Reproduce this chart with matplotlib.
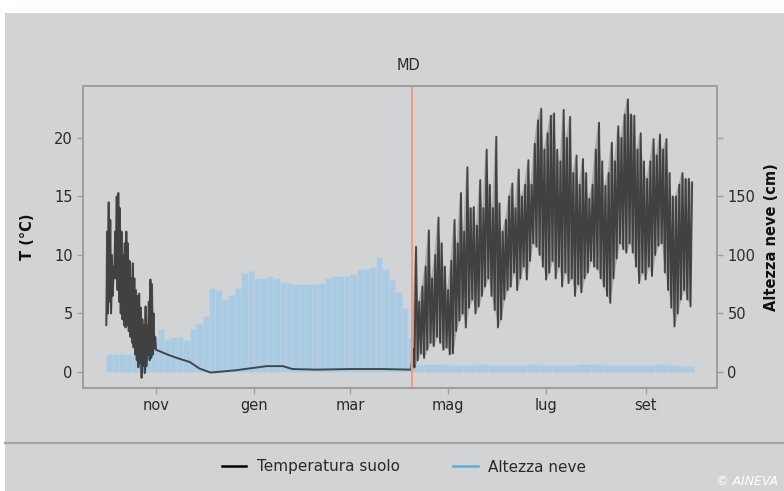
import numpy as np
import matplotlib
matplotlib.use("Agg")
import matplotlib.pyplot as plt
from matplotlib.lines import Line2D
from matplotlib.patches import Rectangle

plt.rcParams['font.family'] = ['DejaVu Sans']

# x axis = days since 1 October (leap year hydrological season)
month_days = [31, 92, 152, 213, 274, 336]
month_labels = ["nov", "gen", "mar", "mag", "lug", "set"]

# ground temperature, October: daily max / min (degC)
oct_day = list(range(0, 31))
oct_hi = [12, 14.5, 13, 10, 9, 12, 15, 15.3, 14, 12, 10, 11, 12, 11, 9.5, 8,
          9.3, 8, 7, 6.5, 6.7, 5.5, 4.5, 4, 5.6, 4, 6, 7.9, 7.5, 5, 3]
oct_lo = [4, 5, 6, 5, 6.5, 8, 8, 7, 6, 5, 4.5, 4, 3.8, 4, 3.5, 3, 2.5, 2.1,
          1.5, 1, 0.4, 0.8, -0.5, 0.5, -0.1, 0.5, 1.5, 1.0, 1.2, 1.5, 2]

# ground temperature under the snow cover (smooth)
winter_day = [31, 38, 44, 52, 58, 65, 69, 81, 89, 100, 110, 116, 131, 152, 172, 190]
winter_t = [1.9, 1.5, 1.2, 0.85, 0.3, -0.05, 0.0, 0.15, 0.3, 0.5, 0.5, 0.25,
            0.2, 0.25, 0.25, 0.2]

# ground temperature after melt-out: max / min every two days
summer_day = list(range(190, 366, 2))
summer_hi = [2, 10.7, 6, 7.3, 9, 12.1, 8, 10, 13.2, 11, 9, 7, 9.5, 13, 11, 15.3,
             12, 17.5, 14, 14.1, 12.5, 16.4, 14, 19, 16, 14, 20.1, 14.4, 12, 13,
             15, 16.1, 14, 17.3, 15, 16, 18.1, 16, 19.5, 21.5, 22.5, 19, 20.4,
             21.9, 22.1, 19, 18, 22.4, 20, 21.8, 17, 18.5, 16, 18.2, 17, 14.8,
             16, 19, 21.3, 18, 15.9, 17, 19.6, 18, 21, 20, 22, 23.3, 22, 21.9,
             19, 20.4, 18, 16.5, 18, 19.9, 18.5, 20.3, 19, 19.9, 17, 15, 15, 16,
             17, 16.5, 16.5, 16.2]
summer_lo = [0.2, 0.4, 1.0, 1.6, 1.2, 1.9, 2.5, 2.2, 3.0, 2.5, 1.9, 2.1, 1.5,
             1.6, 3.5, 4.4, 5, 3.8, 5.5, 6.2, 5, 5.6, 6.5, 7.3, 8, 6.5, 5.3, 3.8,
             4.5, 6.2, 7, 7.3, 8.5, 7, 8, 9, 7.9, 9.5, 11, 10.7, 10, 9, 7.9, 8.5,
             9.5, 8, 9, 7.3, 8.5, 7.6, 8, 6.5, 7.5, 6.8, 8, 8.5, 9.5, 9, 8.8, 8,
             7.3, 6.5, 5.9, 8, 9.7, 11, 10.5, 10.2, 11, 10.2, 9, 7.6, 8.5, 7.9, 9,
             8.2, 10, 10.8, 11, 8.5, 7, 5.5, 3.9, 5, 6.2, 7, 6.2, 5.6]

# snow height (cm), 4-day bins in winter, 8-day bins in summer
snow_day = list(range(0, 190, 4)) + list(range(190, 366, 8))
snow_cm = [15, 15, 15, 15, 15, 15, 16, 30, 37, 28, 30, 30, 27, 37, 42, 48,
           72, 70, 62, 66, 72, 85, 86, 80, 80, 82, 80, 77, 76, 75, 75, 75, 75,
           76, 80, 82, 82, 82, 84, 88, 88, 90, 98, 88, 79, 68, 55, 30,
           6, 7, 7, 6, 6, 7, 6, 6, 6, 7, 6, 6, 6, 7, 7, 6, 6, 6, 6, 7, 6, 5]

melt_day = 190.5

BG = "#d2d3d5"
TXT = "#2a2a2a"


def temperature_path():
    x, y = [], []
    for d, h, l in zip(oct_day, oct_hi, oct_lo):
        x += [d, d + 0.5]
        y += [l, h]
    x += winter_day
    y += winter_t
    for d, h, l in zip(summer_day, summer_hi, summer_lo):
        x += [d, d + 1]
        y += [l, h]
    return x, y


def main():
    fig = plt.figure(figsize=(7.84, 4.91), dpi=100, facecolor="white")
    fig.patches.append(Rectangle((5 / 784, 0), 1, 1 - 13 / 491,
                                 transform=fig.transFigure, facecolor=BG,
                                 edgecolor="none", zorder=-10))
    fig.add_artist(Line2D([5 / 784, 1], [1 - 443 / 491, 1 - 443 / 491],
                          transform=fig.transFigure, color="#a3a4a6", lw=1.6))

    ax = fig.add_axes([83 / 784, 1 - 388 / 491, 634 / 784, 302 / 491])
    ax2 = ax.twinx()

    # snow bars on the right axis, drawn behind the temperature
    widths = np.diff(snow_day + [366])
    ax2.bar(snow_day, snow_cm, width=widths, align="edge",
            color="#abcbe3", edgecolor="#bed4e6", linewidth=0.4, zorder=1)
    ax2.set_ylim(-13.7, 244.4)
    ax2.set_yticks([0, 50, 100, 150, 200])
    ax2.set_yticklabels(["0", "50", "100", "150", ""])

    ax.set_zorder(ax2.get_zorder() + 1)
    ax.patch.set_visible(False)
    ax2.set_facecolor("#d6d6d7")

    # band between the daily extremes, then the trace itself
    ax.fill_between(oct_day, oct_lo, oct_hi, color="#333333", alpha=0.25, lw=0)
    ax.fill_between(summer_day, summer_lo, summer_hi, color="#333333",
                    alpha=0.25, lw=0)
    tx, ty = temperature_path()
    ax.plot(tx, ty, color="#2f2f2f", lw=1.4, alpha=0.85)
    ax.axvline(melt_day, color="#ec9a86", lw=1.4)

    ax.set_xlim(-14.5, 380.5)
    ax.set_ylim(-1.37, 24.44)
    ax.set_yticks([0, 5, 10, 15, 20])
    ax.set_xticks(month_days)
    ax.set_xticklabels(month_labels)

    for a in (ax, ax2):
        for s in a.spines.values():
            s.set_color("#9d9ea0")
            s.set_linewidth(1.3)
        a.tick_params(colors="#9d9ea0", labelcolor=TXT, labelsize=10.5,
                      length=4, width=1)

    fig.text(28 / 784, 1 - 237 / 491, "T (°C)", rotation=90, ha="center",
             va="center", fontsize=10.5, fontweight="bold", color="#111")
    fig.text(771 / 784, 1 - 237 / 491, "Altezza neve (cm)", rotation=90,
             ha="center", va="center", fontsize=10.5, fontweight="bold",
             color="#111")
    fig.text(408 / 784, 1 - 65 / 491, "MD", ha="center", va="center",
             fontsize=10.5, color=TXT)

    handles = [Line2D([], [], color="black", lw=1.8),
               Line2D([], [], color="#5aaed6", lw=1.8)]
    fig.legend(handles, ["Temperatura suolo", "Altezza neve"], ncol=2,
               loc="center", bbox_to_anchor=(404 / 784, 1 - 467 / 491),
               frameon=False, fontsize=11, handlelength=1.6,
               handletextpad=0.7, columnspacing=3.5, labelcolor=TXT)

    fig.text(716 / 784, 3 / 491, "© AINEVA", color="white", fontsize=9,
             style="italic", ha="left", va="bottom")

    fig.savefig("out.png", dpi=100, facecolor=fig.get_facecolor())


if __name__ == '__main__':
    main()
